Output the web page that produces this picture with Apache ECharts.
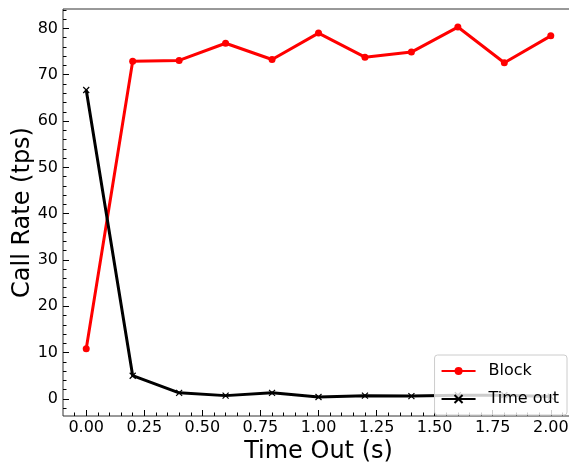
<!DOCTYPE html>
<html>
<head>
<meta charset="utf-8">
<script src="https://cdn.jsdelivr.net/npm/echarts@6/dist/echarts.min.js"></script>
<style>
  html, body { margin: 0; padding: 0; background: #fff; overflow: hidden; }
  #chart { width: 569px; height: 464px; }
</style>
</head>
<body>
<div id="chart"></div>
<script>
const timeOut = [0.0, 0.2, 0.4, 0.6, 0.8, 1.0, 1.2, 1.4, 1.6, 1.8, 2.0]
const blockRate = [10.8, 72.9, 73.1, 76.8, 73.3, 79.0, 73.8, 74.9, 80.3, 72.6, 78.4]
const timeoutRate = [66.7, 5.0, 1.3, 0.7, 1.3, 0.4, 0.7, 0.6, 0.8, 0.8, 0.5]

const xMajor = [0, 0.25, 0.5, 0.75, 1.0, 1.25, 1.5, 1.75, 2.0]
const xMinor = [-0.05, 0, 0.05, 0.1, 0.15, 0.2, 0.25, 0.3, 0.35, 0.4, 0.45, 0.5, 0.55, 0.6, 0.65, 0.7,
  0.75, 0.8, 0.85, 0.9, 0.95, 1.0, 1.05, 1.1, 1.15, 1.2, 1.25, 1.3, 1.35, 1.4, 1.45, 1.5, 1.55,
  1.6, 1.65, 1.7, 1.75, 1.8, 1.85, 1.9, 1.95, 2.0, 2.05]
const yMajor = [0, 10, 20, 30, 40, 50, 60, 70, 80]
const yMinor = [-2, 0, 2, 4, 6, 8, 10, 12, 14, 16, 18, 20, 22, 24, 26, 28, 30, 32, 34, 36, 38, 40,
  42, 44, 46, 48, 50, 52, 54, 56, 58, 60, 62, 64, 66, 68, 70, 72, 74, 76, 78, 80, 82, 84]

const font = 'DejaVu Sans'
const X_MIN = -0.1, X_MAX = 2.1
const Y_MIN = -3.7, Y_MAX = 84.2

const chart = echarts.init(document.getElementById('chart'))

const tickBase = { inside: true, lineStyle: { color: '#000', width: 1 } }
const noLine = { show: false, onZero: false }

chart.setOption({
  animation: false,
  textStyle: { fontFamily: font },
  // the source figure is cropped on the right, so the frame runs past the edge
  grid: {
    left: 63, right: -5, top: 9, bottom: 48,
    show: true, borderColor: '#333', borderWidth: 1,
    containLabel: false, outerBoundsMode: 'none',
  },
  legend: {
    orient: 'vertical',
    right: 2,
    top: 355,
    data: ['Block', 'Time out'],
    itemWidth: 34,
    itemHeight: 10,
    itemGap: 12,
    padding: [8, 8, 8, 6],
    backgroundColor: 'rgba(255,255,255,0.8)',
    borderColor: '#ccc',
    borderWidth: 1,
    borderRadius: 3,
    textStyle: { fontFamily: font, fontSize: 16, color: '#000', padding: [0, 0, 0, 8] },
  },
  xAxis: [
    {
      type: 'value',
      min: X_MIN,
      max: X_MAX,
      name: 'Time Out (s)',
      nameLocation: 'middle',
      nameGap: 24,
      nameMoveOverlap: false,
      nameTextStyle: { fontFamily: font, fontSize: 24, color: '#000' },
      axisLine: noLine,
      splitLine: { show: false },
      axisTick: { ...tickBase, length: 6, customValues: xMajor },
      axisLabel: {
        customValues: xMajor,
        formatter: (v) => v.toFixed(2),
        color: '#000',
        fontSize: 16,
        fontFamily: font,
        margin: 4,
      },
    },
    {
      type: 'value',
      min: X_MIN,
      max: X_MAX,
      position: 'bottom',
      axisLine: noLine,
      splitLine: { show: false },
      axisTick: { ...tickBase, length: 3.5, customValues: xMinor },
      axisLabel: { show: false },
    },
  ],
  yAxis: [
    {
      type: 'value',
      min: Y_MIN,
      max: Y_MAX,
      name: 'Call Rate (tps)',
      nameLocation: 'middle',
      nameGap: 28,
      nameMoveOverlap: false,
      nameTextStyle: { fontFamily: font, fontSize: 24, color: '#000' },
      axisLine: noLine,
      splitLine: { show: false },
      axisTick: { ...tickBase, length: 6, customValues: yMajor },
      axisLabel: {
        customValues: yMajor,
        color: '#000',
        fontSize: 16,
        fontFamily: font,
        margin: 5,
      },
    },
    {
      type: 'value',
      min: Y_MIN,
      max: Y_MAX,
      position: 'left',
      axisLine: noLine,
      splitLine: { show: false },
      axisTick: { ...tickBase, length: 3.5, customValues: yMinor },
      axisLabel: { show: false },
    },
  ],
  series: [
    {
      name: 'Block',
      type: 'line',
      data: timeOut.map((x, i) => [x, blockRate[i]]),
      symbol: 'circle',
      symbolSize: 7,
      lineStyle: { color: '#ff0000', width: 3 },
      itemStyle: { color: '#ff0000' },
    },
    {
      name: 'Time out',
      type: 'line',
      data: timeOut.map((x, i) => [x, timeoutRate[i]]),
      symbol: 'path://M0,0L10,10M10,0L0,10',
      symbolSize: 6,
      lineStyle: { color: '#000', width: 3 },
      itemStyle: { color: '#000', borderColor: '#000', borderWidth: 1.2 },
    },
  ],
})
</script>
</body>
</html>
